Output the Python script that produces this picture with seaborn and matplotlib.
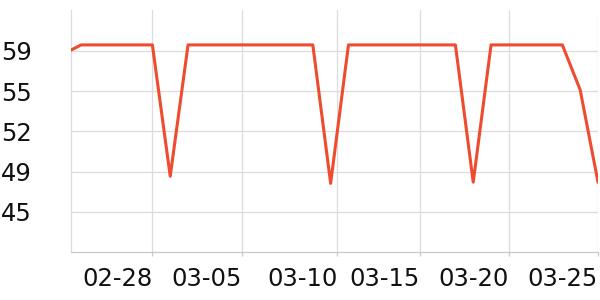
import matplotlib
matplotlib.use("Agg")
import matplotlib.pyplot as plt
import matplotlib.dates as mdates
from matplotlib.ticker import FixedLocator, FormatStrFormatter
import pandas as pd
import seaborn as sns

dates = [
    "2025-02-23 10:00", "2025-02-24", "2025-02-25", "2025-02-26", "2025-02-27",
    "2025-02-28", "2025-03-01", "2025-03-02", "2025-03-03", "2025-03-04",
    "2025-03-05", "2025-03-06", "2025-03-07", "2025-03-08", "2025-03-09",
    "2025-03-10", "2025-03-11", "2025-03-12", "2025-03-13", "2025-03-14",
    "2025-03-15", "2025-03-16", "2025-03-17", "2025-03-18", "2025-03-19",
    "2025-03-20", "2025-03-21", "2025-03-22", "2025-03-23", "2025-03-24",
    "2025-03-25",
]
values = [
    58.85, 59.3, 59.3, 59.3, 59.3,
    59.3, 48.2, 59.3, 59.3, 59.3,
    59.3, 59.3, 59.3, 59.3, 59.3,
    47.6, 59.3, 59.3, 59.3, 59.3,
    59.3, 59.3, 59.3, 47.7, 59.3,
    59.3, 59.3, 59.3, 59.3, 55.5,
    47.7,
]
x_tick_dates = ["2025-02-28", "2025-03-05", "2025-03-10 09:00",
                "2025-03-15", "2025-03-20", "2025-03-25"]
x_tick_labels = ["02-28", "03-05", "03-10", "03-15", "03-20", "03-25"]
y_ticks = [45.2, 48.6, 52.0, 55.4, 58.8]
y_limits = (41.8, 62.25)

df = pd.DataFrame({"time": pd.to_datetime(dates, format="mixed"), "value": values})

sns.set_theme(style="white")
plt.rcParams["font.family"] = ["DejaVu Sans"]

fig = plt.figure(figsize=(6, 3), dpi=100)
ax = fig.add_axes([70.7 / 600, 48 / 300, (598 - 70.7) / 600, (252 - 10) / 300])

sns.lineplot(data=df, x="time", y="value", ax=ax, color="#ef4b2f",
             linewidth=2.2, zorder=3)

ax.set_xlim(df["time"].iloc[0], df["time"].iloc[-1])
ax.set_ylim(*y_limits)

tick_pos = [mdates.date2num(pd.Timestamp(d)) for d in x_tick_dates]
ax.xaxis.set_major_locator(FixedLocator(tick_pos))
ax.set_xticklabels(x_tick_labels, ha="right")
ax.yaxis.set_major_locator(FixedLocator(y_ticks))
ax.yaxis.set_major_formatter(FormatStrFormatter("%.0f"))

ax.grid(True, color="#dcdcdc", linewidth=0.9)
ax.set_xlabel("")
ax.set_ylabel("")

for s in ["top", "right"]:
    ax.spines[s].set_visible(False)
ax.spines["left"].set_color("#dcdcdc")
ax.spines["left"].set_linewidth(0.9)
ax.spines["bottom"].set_color("#c8c8c8")
ax.spines["bottom"].set_linewidth(0.9)

ax.tick_params(axis="x", length=3, width=0.9, color="#c8c8c8",
               labelsize=17.5, pad=8, labelcolor="#111111", bottom=True)
ax.tick_params(axis="y", length=0, labelsize=17.5, pad=28, labelcolor="#111111")

fig.savefig("out.png", dpi=100)
